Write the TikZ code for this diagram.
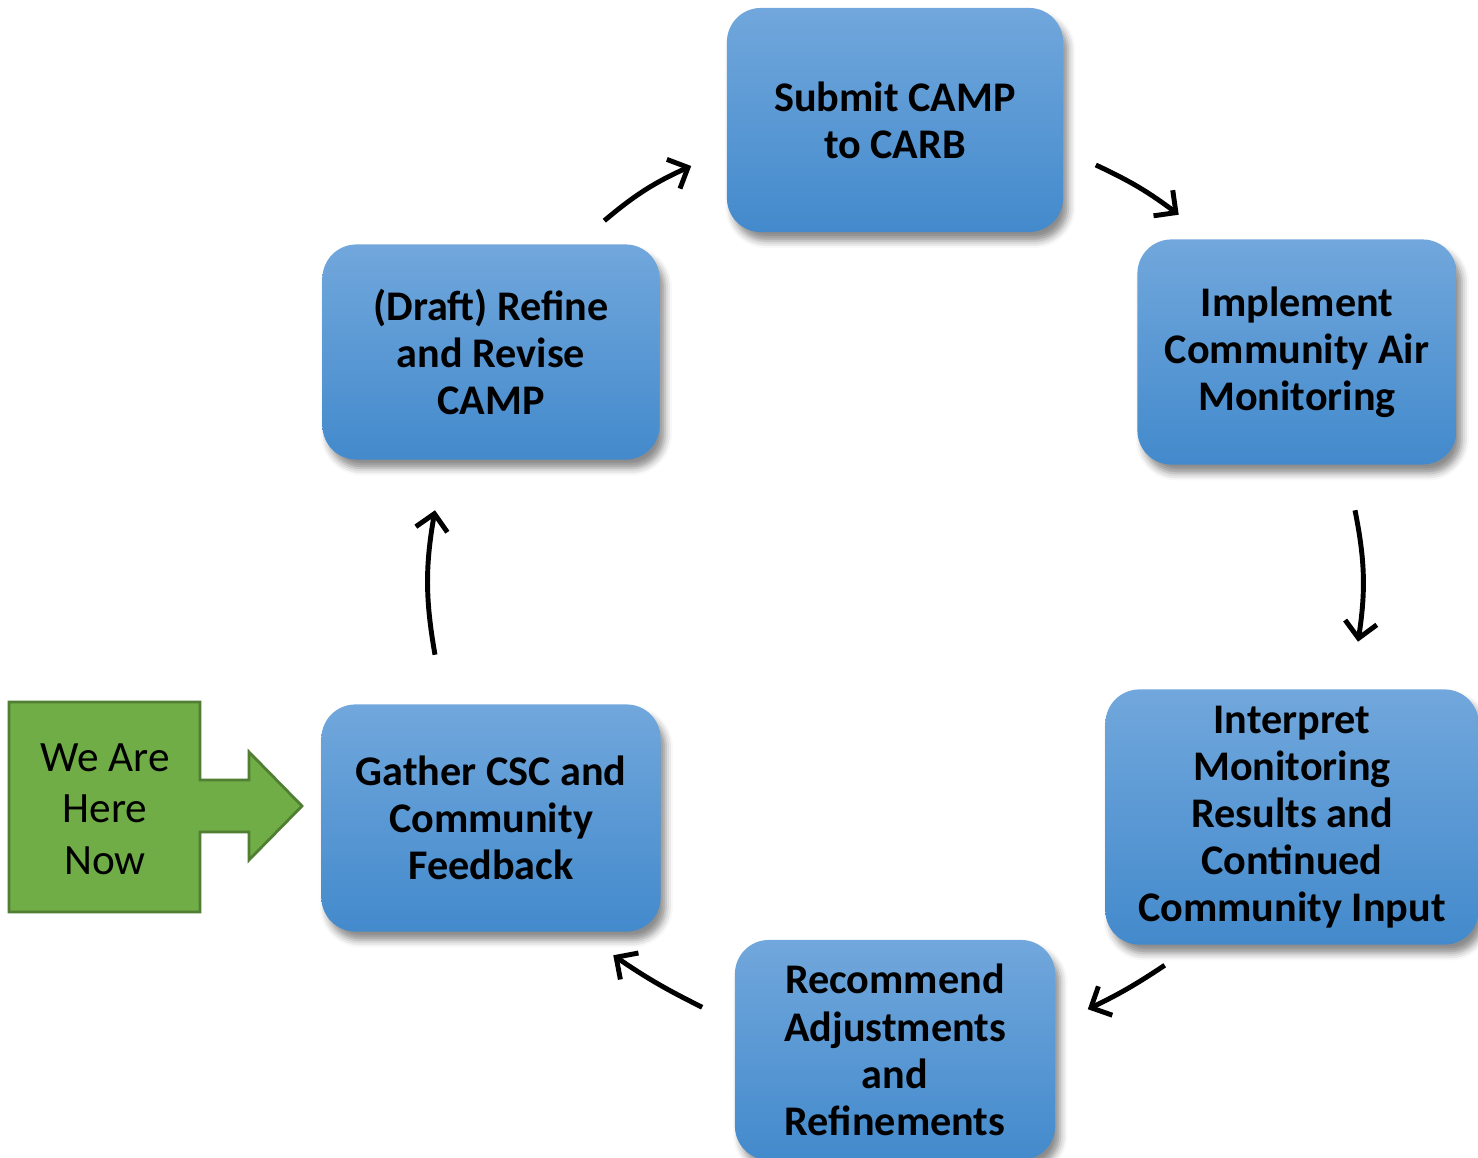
\documentclass[tikz,border=0pt]{standalone}
\usepackage{fontspec}
\setmainfont{Carlito}
\usetikzlibrary{arrows.meta,calc,shadows,shadows.blur}

\begin{document}
\begin{tikzpicture}[
  x=0.01cm, y=-0.01cm,
  >={Straight Barb[length=1.6mm, width=3.2mm, line width=1.4pt]},
  step box/.style={rectangle, rounded corners=0.34cm, draw=none, align=center, inner sep=0pt,
    top color=stepblueTop, bottom color=stepblueBot,
    blur shadow={shadow xshift=1.5pt, shadow yshift=-2.5pt, shadow blur radius=2pt, shadow opacity=45},
    font=\fontsize{12}{13.4}\selectfont\bfseries},
  arrow/.style={->, line width=1.4pt, draw=black},
  here/.style={draw=hereborder, fill=heregreen, line width=0.8pt}
]

% --- Colours ---
\definecolor{stepblueTop}{RGB}{113,167,220}
\definecolor{stepblueBot}{RGB}{67,138,204}
\definecolor{heregreen}{RGB}{112,173,71}
\definecolor{hereborder}{RGB}{80,126,50}

\useasboundingbox (0,0) rectangle (1478,1158);

% --- Cycle steps ---
\node[step box, minimum width=3.36cm, minimum height=2.24cm] (submit) at (895,120) {Submit CAMP\\to CARB};
\node[step box, minimum width=3.19cm, minimum height=2.25cm] (implement) at (1297,352) {Implement\\Community Air\\Monitoring};
\node[step box, minimum width=3.73cm, minimum height=2.55cm] (interpret) at (1292,817) {Interpret\\Monitoring\\Results and\\Continued\\Community Input};
\node[step box, minimum width=3.20cm, minimum height=2.20cm] (recommend) at (895,1050) {Recommend\\Adjustments\\and\\Refinements};
\node[step box, minimum width=3.39cm, minimum height=2.27cm] (gather) at (491,818) {Gather CSC and\\Community\\Feedback};
\node[step box, minimum width=3.37cm, minimum height=2.15cm] (draft) at (491,352) {(Draft) Refine\\and Revise\\CAMP};

% --- We are here callout ---
\draw[here] (9,702) -- (200,702) -- (200,780) -- (249,780) -- (249,752) -- (302,806)
  -- (249,860) -- (249,832) -- (200,832) -- (200,912) -- (9,912) -- cycle;
\node[align=center, font=\fontsize{12.3}{14.6}\selectfont] (now) at (105,809) {We Are\\Here\\Now};

% --- Arrows between steps ---
\draw[arrow] ([shift={(-56,-23)}]draft.north east) to[bend left=8] ([shift={(-35,46)}]submit.west);
\draw[arrow] ([shift={(32,45)}]submit.east) to[bend left=6] ([shift={(42,-24)}]implement.north west);
\draw[arrow] ([shift={(58,45)}]implement.south) to[bend left=10] ([shift={(66,-47)}]interpret.north);
\draw[arrow] ([shift={(60,20)}]interpret.south west) to[bend left=4] ([shift={(32,70)}]recommend.north east);
\draw[arrow] ([shift={(-32,68)}]recommend.north west) to[bend left=4] ([shift={(-48,23)}]gather.south east);
\draw[arrow] ([shift={(-56,-49)}]gather.north) to[bend left=10] ([shift={(-56,50)}]draft.south);

\end{tikzpicture}
\end{document}
